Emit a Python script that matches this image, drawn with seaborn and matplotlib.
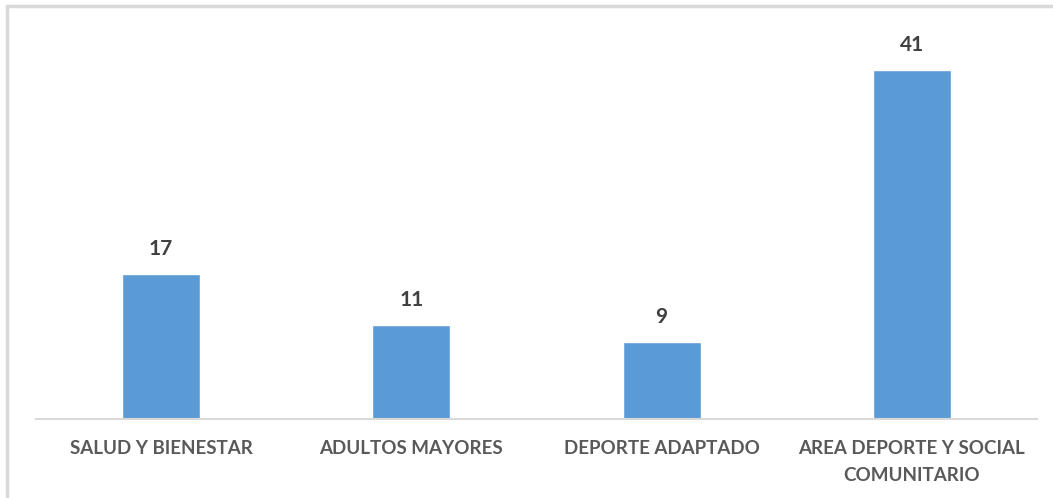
import matplotlib
matplotlib.use("Agg")
import matplotlib.pyplot as plt
import seaborn as sns
import pandas as pd
from matplotlib.lines import Line2D

categories = ["SALUD Y BIENESTAR", "ADULTOS MAYORES", "DEPORTE ADAPTADO",
              "AREA DEPORTE Y SOCIAL\nCOMUNITARIO"]
values = [17, 11, 9, 41]

sns.set_theme(style="white")
plt.rcParams['font.family'] = ['Lato', 'DejaVu Sans']

df = pd.DataFrame({"cat": categories, "val": values})

fig = plt.figure(figsize=(10.53, 4.98), dpi=100)
ax = fig.add_axes([36/1053, 79/498, 1001/1053, 383/498])
sns.barplot(data=df, x="cat", y="val", color="#5B9BD5", saturation=1,
            width=0.312, ax=ax)
ax.set_ylim(0, 45)
ax.set_xlim(-0.5, 3.5)
ax.set_xlabel("")
ax.set_ylabel("")
ax.set_yticks([])
for s in ["top", "right", "left"]:
    ax.spines[s].set_visible(False)
ax.spines["bottom"].set_color("#D9D9D9")
ax.spines["bottom"].set_linewidth(1.5)
ax.tick_params(axis="x", length=0, pad=15)
for lbl in ax.get_xticklabels():
    lbl.set_fontsize(13.5)
    lbl.set_fontweight("bold")
    lbl.set_color("#595959")
    lbl.set_linespacing(1.75)
for c in ax.containers:
    ax.bar_label(c, fmt="%d", padding=11, fontsize=15, fontweight="bold", color="#404040")

fig.lines.append(Line2D([7/1053, 7/1053], [0, 492/498], transform=fig.transFigure,
                        color="#D9D9D9", linewidth=2.5))
fig.lines.append(Line2D([7/1053, 1], [492/498, 492/498], transform=fig.transFigure,
                        color="#D9D9D9", linewidth=2.5))
fig.savefig("out.png", dpi=100)
